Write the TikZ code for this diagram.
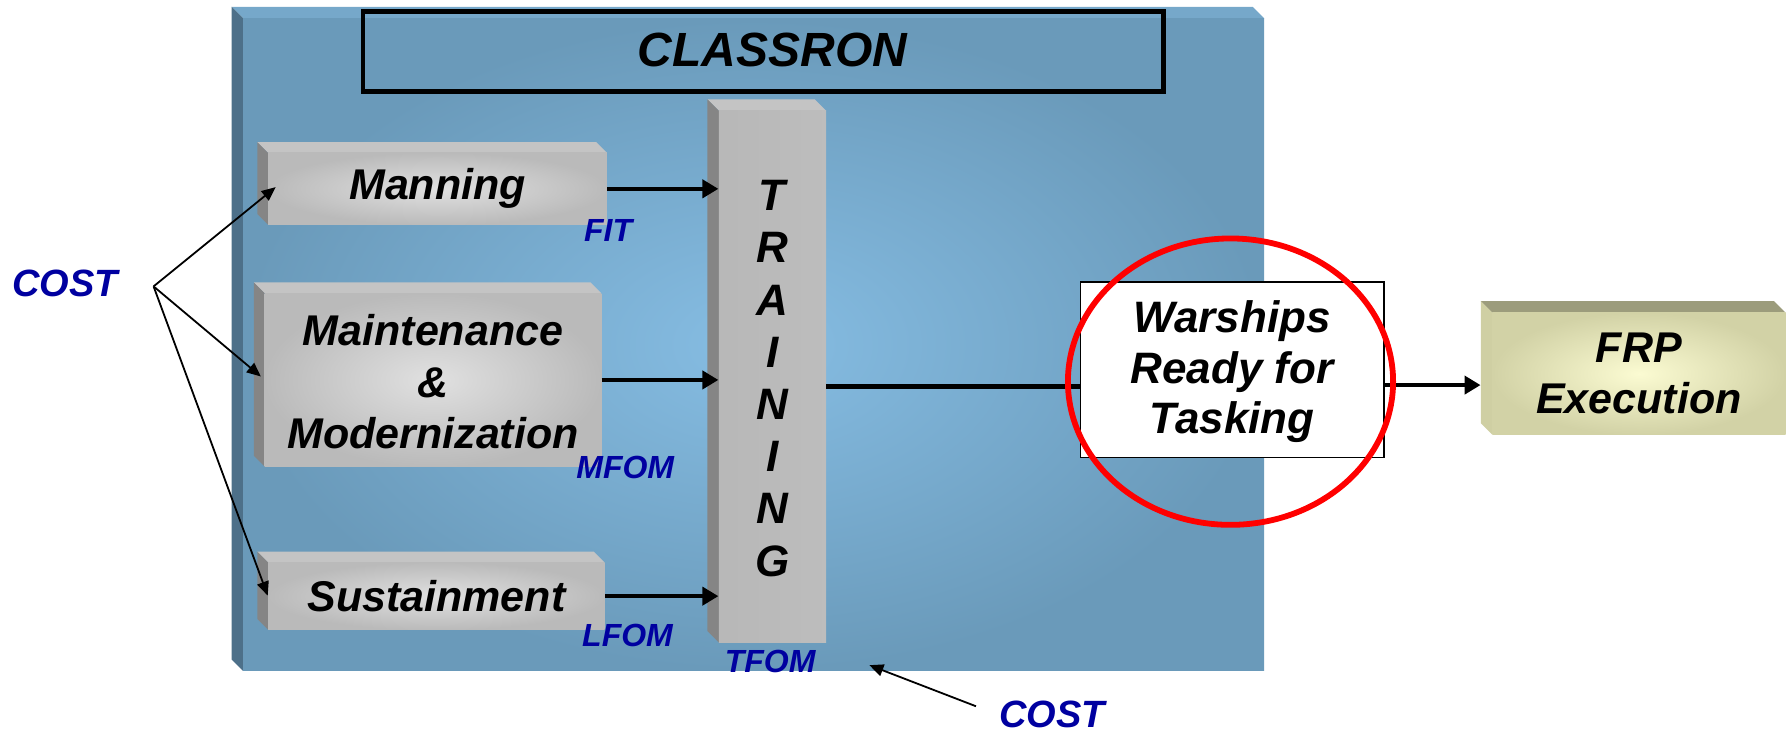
\documentclass[tikz,border=0pt]{standalone}
\usepackage{fontspec}
\setmainfont{Liberation Sans}
\usetikzlibrary{arrows.meta,fit}
\definecolor{panelout}{HTML}{6A9ABA}
\definecolor{panelin}{HTML}{86BDE3}
\definecolor{paneltop}{HTML}{76A8CA}
\definecolor{panelleft}{HTML}{4D7089}
\definecolor{labblue}{HTML}{0000A0}
\definecolor{frpout}{HTML}{D2D2A6}
\definecolor{frpin}{HTML}{FBFBD2}
\definecolor{frptop}{HTML}{9C9C7C}
\definecolor{frpleft}{HTML}{CFCFA3}
\definecolor{grytop}{HTML}{C4C4C4}
\definecolor{gryleft}{HTML}{858585}
\newcommand\mybev[7]{%
 \fill[#6] (#1-#5,#2-#5) -- (#3-#5,#2-#5) -- (#3,#2) -- (#1,#2) -- cycle;
 \fill[#7] (#1-#5,#2-#5) -- (#1,#2) -- (#1,#4) -- (#1-#5,#4-#5) -- cycle;}
\begin{document}
\begin{tikzpicture}[x=0.5705pt,y=-0.5705pt,
  txt/.style={font=\bfseries\itshape\fontsize{21.5}{25.7}\selectfont, align=center, inner sep=0},
  lab/.style={font=\bfseries\itshape\fontsize{16}{19}\selectfont, text=labblue, inner sep=0},
  costlab/.style={font=\bfseries\itshape\fontsize{19}{22}\selectfont, text=labblue, inner sep=0},
  facebox/.style={inner sep=0, shade, inner color=black!12, outer color=black!27},
  flow/.style={line width=2.3pt, -{Triangle[length=8pt,width=9pt]}},
  costarrow/.style={line width=0.9pt, -{Triangle[length=7pt,width=6pt]}},
]
\useasboundingbox (0,0) rectangle (1568,644);
% panel
\mybev{213}{16}{1108}{588}{10}{paneltop}{panelleft}
\node[fit={(213,16) (1108,588)}, inner sep=0, shade, inner color=panelin, outer color=panelout] (panel) {};
\node[fit={(318,10) (1020,80)}, inner sep=0, draw, line width=2.3pt] (classron) {};
\node[txt, font=\bfseries\itshape\fontsize{24}{28}\selectfont] (classronT) at (677,44) {CLASSRON};
% gray boxes
\mybev{235}{134}{532}{197}{9.5}{grytop}{gryleft}
\node[fit={(235,134) (532,197)}, facebox] (manning) {};
\node[txt] (manningT) at (manning.center) {Manning};
\mybev{232}{257}{527}{409}{9.5}{grytop}{gryleft}
\node[fit={(232,257) (527,409)}, facebox] (maint) {};
\node[txt] (maintT) at ([yshift=-1pt]maint.center) {Maintenance\\\&\\Modernization};
\mybev{235}{493}{530}{552}{9.5}{grytop}{gryleft}
\node[fit={(235,493) (530,552)}, facebox] (sust) {};
\node[txt] (sustT) at (sust.center) {Sustainment};
\mybev{630}{97}{724}{563}{10}{grytop}{gryleft}
\node[fit={(630,97) (724,563)}, inner sep=0, left color=black!28, middle color=black!13, right color=black!26] (training) {};
\node[txt, font=\bfseries\itshape\fontsize{22}{26.1}\selectfont] (trainingT) at ([yshift=-1pt]training.center) {T\\R\\A\\I\\N\\I\\N\\G};
% warships & FRP
\node[fit={(947,247) (1213,401)}, inner sep=0, draw, line width=0.9pt, fill=white] (warships) {};
\node[txt, font=\bfseries\itshape\fontsize{22}{25.1}\selectfont] (warshipsT) at ([yshift=-1pt]warships.center) {Warships\\Ready for\\Tasking};
\mybev{1308}{274}{1565}{381}{10}{frptop}{frpleft}
\node[fit={(1308,274) (1565,381)}, inner sep=0, shade, inner color=frpin, outer color=frpout] (frp) {};
\node[txt] (frpT) at (frp.center) {FRP\\Execution};
% flows
\draw[flow] (manning.east) -- (manning.east -| training.west);
\draw[flow] (maint.east) -- (maint.east -| training.west);
\draw[flow] (sust.east) -- (sust.east -| training.west);
\path (warships.west) ++(0,15) coordinate (wIn);
\draw[line width=2.3pt] (wIn -| training.east) -- (wIn);
\path (frp.west) ++(-10,10) coordinate (fIn);
\draw[flow] (fIn -| warships.east) -- (fIn);
\draw[red, line width=2.9pt] (1078.5,334.5) ellipse [x radius=81.3pt, y radius=71.6pt];
% labels
\node[lab] (lFIT) at (533,202) {FIT};
\node[lab] (lMFOM) at (548,410) {MFOM};
\node[lab] (lLFOM) at (550,557) {LFOM};
\node[lab] (lTFOM) at (675,580) {TFOM};
% cost
\node[costlab] (costL) at (57,248) {COST};
\path (costL.east) ++(31,3) coordinate (hub);
\path (manning.west) ++(7,-1.5) coordinate (tM);
\path (maint.west) ++(-3,-3) coordinate (tMa);
\path (sust.west) ++(0,-0.5) coordinate (tS);
\draw[costarrow] (hub) -- (tM);
\draw[costarrow] (hub) -- (tMa);
\draw[costarrow] (hub) -- (tS);
\node[costlab] (costB) at (922,626) {COST};
\path (costB.west) ++(-20,-7) coordinate (cTail);
\coordinate (cTip) at (762,583);
\draw[costarrow] (cTail) -- (cTip);
\end{tikzpicture}
\end{document}
